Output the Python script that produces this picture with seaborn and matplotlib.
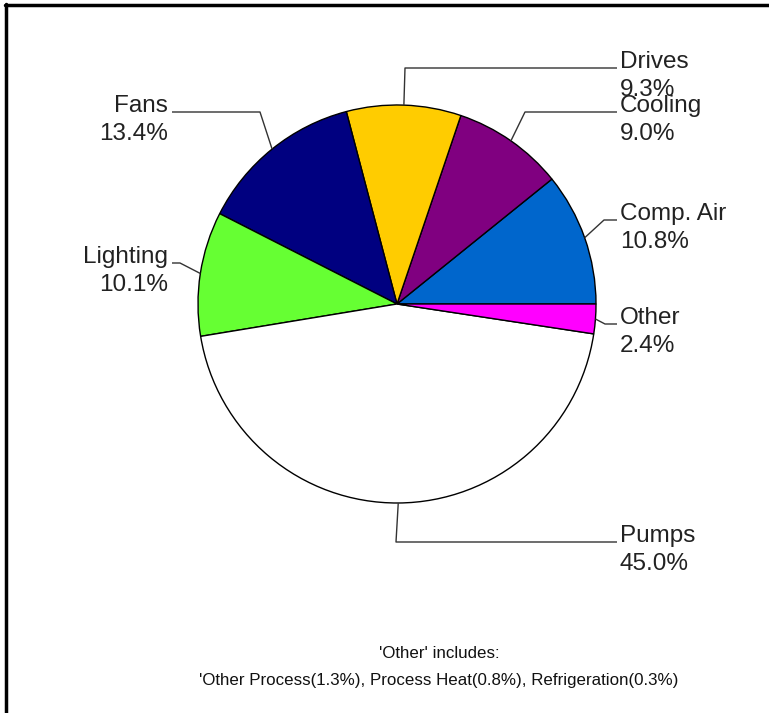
import numpy as np
import matplotlib
matplotlib.use('Agg')
import matplotlib.pyplot as plt
import seaborn as sns

# energy use shares, counterclockwise from 3 o'clock
labels = ['Comp. Air', 'Cooling', 'Drives', 'Fans', 'Lighting', 'Pumps', 'Other']
shares = [10.8, 9.0, 9.3, 13.4, 10.1, 45.0, 2.4]
colors = ['#0066CC', '#800080', '#FFCC00', '#000080', '#66FF33', '#FFFFFF', '#FF00FF']

other_parts = ['Other Process', 'Process Heat', 'Refrigeration']
other_shares = [1.3, 0.8, 0.3]

sns.set_style('white')
plt.rcParams['font.family'] = ['Liberation Sans', 'DejaVu Sans']

W, H = 769, 713
fig = plt.figure(figsize=(W / 100, H / 100), dpi=100)
ax = fig.add_axes([0, 0, 1, 1])

def py(y):
    # pixel row -> data y
    return H - y

cx, cy, r = 397, 304, 199
ax.pie(shares, colors=colors, startangle=0, counterclock=True,
       center=(cx, py(cy)), radius=r, frame=True,
       wedgeprops=dict(edgecolor='black', linewidth=1.0))
ax.set_xlim(0, W)
ax.set_ylim(0, H)
ax.set_aspect('equal')
ax.axis('off')

# leader line layout: elbow point, end of horizontal, text x, alignment
layout = {
    'Comp. Air': ((604, 220), 617, 620, 'left'),
    'Cooling':   ((525, 112), 617, 620, 'left'),
    'Drives':    ((405, 68), 617, 620, 'left'),
    'Fans':      ((260, 112), 172, 168, 'right'),
    'Lighting':  ((180, 263), 172, 168, 'right'),
    'Pumps':     ((396, 542), 617, 620, 'left'),
    'Other':     ((605, 324), 617, 620, 'left'),
}

total = sum(shares)
edges = np.cumsum([0] + shares) / total * 360
for i, name in enumerate(labels):
    mid = np.deg2rad((edges[i] + edges[i + 1]) / 2)
    x0 = cx + r * np.cos(mid)
    y0 = py(cy) + r * np.sin(mid)
    (ex, ey), endx, tx, ha = layout[name]
    ax.plot([x0, ex, endx], [y0, py(ey), py(ey)], color='#333333', lw=1.0,
            solid_capstyle='butt')
    ax.text(tx, py(ey), name, ha=ha, va='baseline', fontsize=17.5, color='#222222')
    ax.text(tx, py(ey + 28), f'{shares[i]:.1f}%', ha=ha, va='baseline',
            fontsize=17.5, color='#222222')

note = ", ".join(f"{n}({v}%)" for n, v in zip(other_parts, other_shares))
ax.text(439, py(653), "'Other' includes:", ha='center', va='center',
        fontsize=12.2, color='#111111')
ax.text(439, py(680), "'" + note, ha='center', va='center',
        fontsize=12.2, color='#111111')

# frame on top and left
ax.plot([5, W], [py(5), py(5)], color='black', lw=2.5, clip_on=False)
ax.plot([6, 6], [py(4), 0], color='black', lw=2.5, clip_on=False)

fig.savefig('out.png', dpi=100)
